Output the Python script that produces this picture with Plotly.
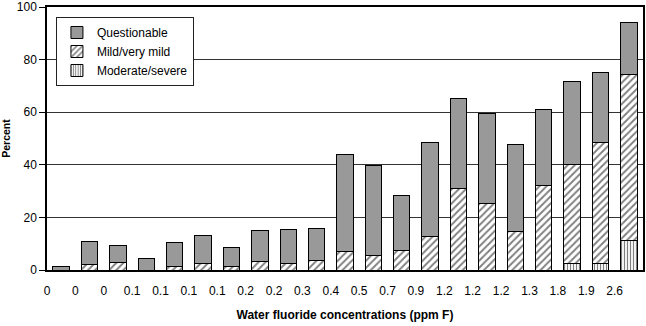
import plotly.graph_objects as go

categories = ["0", "0", "0", "0.1", "0.1", "0.1", "0.1", "0.2", "0.2", "0.3", "0.4",
              "0.5", "0.7", "0.9", "1.2", "1.2", "1.2", "1.3", "1.8", "1.9", "2.6"]
moderate = [0, 0, 0, 0, 0, 0, 0, 0, 0, 0, 0, 0, 0, 0, 0, 0, 0, 0, 2.4, 2.5, 11.2]
mild = [0, 2.0, 2.9, 0, 1.3, 2.6, 1.4, 3.1, 2.6, 3.5, 7.2, 5.7, 7.4, 12.6, 31.1,
        25.3, 14.8, 32.2, 37.6, 45.9, 63.3]
questionable = [1.2, 8.7, 6.4, 4.3, 9.0, 10.4, 7.0, 12.0, 12.9, 12.2, 36.7, 34.0,
                20.9, 35.7, 34.0, 34.1, 32.9, 28.7, 31.7, 26.7, 19.5]
y_ticks = [0, 20, 40, 60, 80, 100]

n = len(categories)
xpos = [i + 0.5 for i in range(n)]
FONT = "Liberation Sans, Arial, Helvetica, sans-serif"
line = dict(color="black", width=1)

fig = go.Figure()
fig.add_trace(go.Bar(
    x=xpos, y=moderate, name="Moderate/severe", width=0.58,
    marker=dict(color="white", line=line,
                pattern=dict(shape="|", fgcolor="black", bgcolor="white", size=3, solidity=0.4)),
))
fig.add_trace(go.Bar(
    x=xpos, y=mild, name="Mild/very mild", width=0.58,
    marker=dict(color="white", line=line,
                pattern=dict(shape="/", fgcolor="black", bgcolor="white", size=5, solidity=0.38)),
))
fig.add_trace(go.Bar(
    x=xpos, y=questionable, name="Questionable", width=0.58,
    marker=dict(color="#999999", line=line),
))

fig.update_layout(
    width=646, height=326,
    margin=dict(l=47, r=3, t=7, b=56, autoexpand=False),
    barmode="stack",
    plot_bgcolor="white", paper_bgcolor="white",
    font=dict(family=FONT, size=12, color="black"),
    showlegend=True,
    legend=dict(
        x=0.015, y=0.962, xanchor="left", yanchor="top",
        bordercolor="#222222", borderwidth=1, bgcolor="white",
        traceorder="reversed", font=dict(size=12, family=FONT),
        itemwidth=30,
    ),
    xaxis=dict(
        range=[0, n], tickmode="array", tickvals=list(range(n)), ticktext=categories,
        showgrid=False, zeroline=False, showline=True, linecolor="black", linewidth=1.5,
        mirror=True, ticks="", ticklabelstandoff=9, automargin=False,
        tickfont=dict(size=12),
        title=dict(text="<b>Water fluoride concentrations (ppm F)</b>", font=dict(size=12), standoff=13),
    ),
    yaxis=dict(
        range=[0, 100], tickmode="array", tickvals=y_ticks,
        showgrid=True, gridcolor="#333333", gridwidth=1,
        zeroline=False, showline=True, linecolor="black", linewidth=1.5, mirror=True,
        ticks="outside", ticklen=6, tickcolor="black", tickwidth=1, automargin=False,
        tickfont=dict(size=12), ticklabeloverflow="allow",
        title=dict(text="<b>Percent</b>", font=dict(size=10.5), standoff=12),
    ),
)

fig.write_html("out.html")
